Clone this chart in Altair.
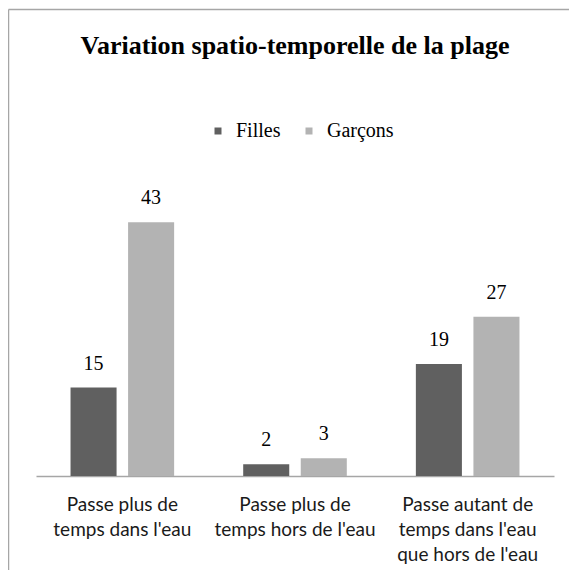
import altair as alt
import pandas as pd

categories = [
    "Passe plus de\ntemps dans l'eau",
    "Passe plus de\ntemps hors de l'eau",
    "Passe autant de\ntemps dans l'eau\nque hors de l'eau",
]
series = ["Filles", "Garçons"]
filles = [15, 2, 19]
garcons = [43, 3, 27]
colors = ["#606060", "#b3b3b3"]

rows = []
for c, f, g in zip(categories, filles, garcons):
    rows.append({"cat": c, "sexe": "Filles", "val": f})
    rows.append({"cat": c, "sexe": "Garçons", "val": g})
df = pd.DataFrame(rows)

x_enc = alt.X("cat:N", sort=categories,
              scale=alt.Scale(paddingInner=0, paddingOuter=0),
              axis=alt.Axis(title=None, labelAngle=0, ticks=False,
                            labelExpr="split(datum.label, '\\n')",
                            labelFont="Lato", labelFontSize=19,
                            labelColor="#1a1a1a", labelLineHeight=25,
                            labelBaseline="top", labelPadding=19,
                            domainColor="#a6a6a6", domainWidth=1.5,
                            grid=False))
xo_enc = alt.XOffset("sexe:N", sort=series,
                     scale=alt.Scale(paddingInner=0.2, paddingOuter=0.6))
y_enc = alt.Y("val:Q", scale=alt.Scale(domain=[0, 50], nice=False),
              axis=None)

base = alt.Chart(df)

bars = base.mark_bar().encode(
    x=x_enc, xOffset=xo_enc, y=y_enc,
    color=alt.Color("sexe:N", sort=series,
                    scale=alt.Scale(domain=series, range=colors),
                    legend=alt.Legend(title=None, orient="none",
                                      direction="horizontal",
                                      legendX=172, legendY=-60,
                                      symbolType="square", symbolSize=49,
                                      symbolStrokeWidth=0,
                                      labelFont="Liberation Serif",
                                      labelFontSize=20, labelColor="#000000",
                                      labelOffset=8, columnPadding=18)),
)

labels = base.mark_text(font="Liberation Serif", fontSize=20,
                        baseline="alphabetic", dy=-18,
                        color="#000000").encode(
    x=x_enc, xOffset=xo_enc, y=y_enc, text="val:Q")

frame_df = pd.DataFrame({"k": [0]})
left_line = alt.Chart(frame_df).mark_rule(color="#a6a6a6", strokeWidth=1.5).encode(
    x=alt.value(-27.5), y=alt.value(-171.5), y2=alt.value(420))
top_line = alt.Chart(frame_df).mark_rule(color="#a6a6a6", strokeWidth=1.5).encode(
    x=alt.value(-27.5), x2=alt.value(560), y=alt.value(-171.5))

chart = alt.layer(bars, labels, left_line, top_line).properties(
    width=518, height=295,
    title=alt.TitleParams("Variation spatio-temporelle de la plage",
                          font="Liberation Serif", fontSize=26,
                          fontWeight="bold", color="#000000",
                          anchor="middle", frame="group",
                          baseline="alphabetic", offset=-71),
    autosize=alt.AutoSizeParams(type="none"),
    padding={"left": 28, "top": 173, "right": 15, "bottom": 94},
    background="#ffffff",
).configure_view(stroke=None)

chart.save("out.html", embed_options={"renderer": "svg", "actions": False})
